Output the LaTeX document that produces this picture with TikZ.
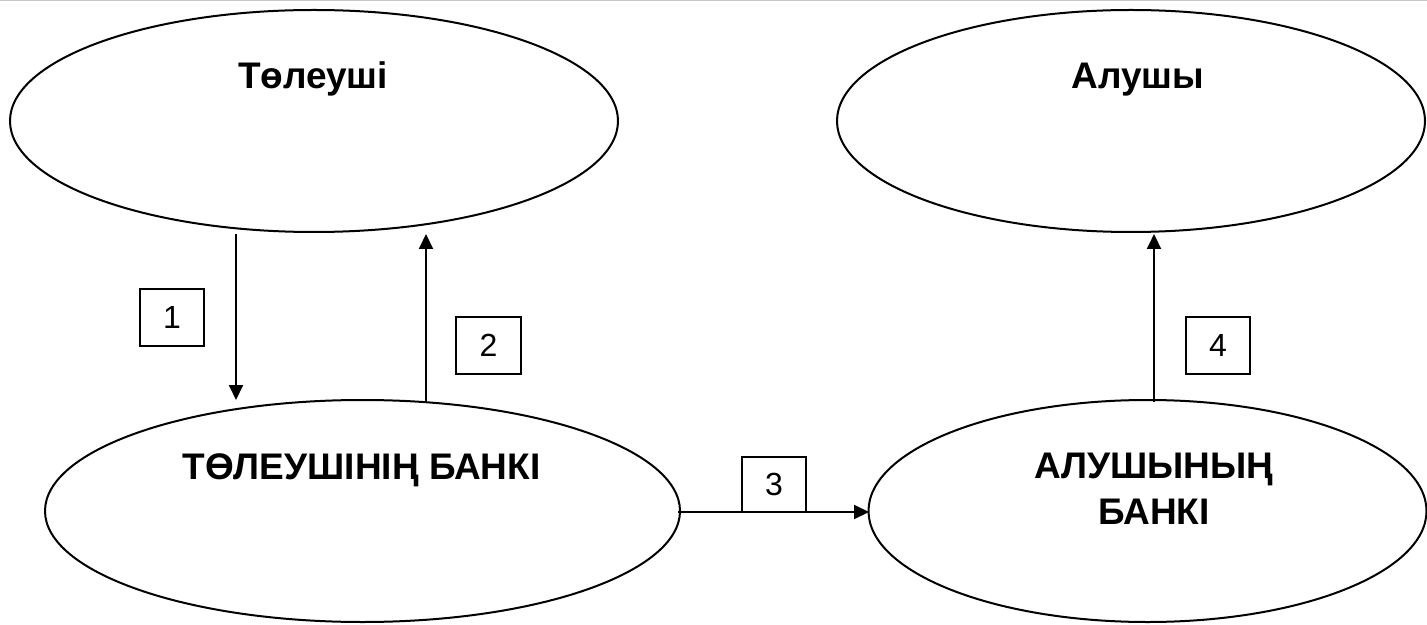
\documentclass[tikz,border=0pt]{standalone}
\usepackage{fontspec}
\setmainfont{Liberation Sans}
\usetikzlibrary{shapes.geometric,arrows.meta}
\begin{document}
\begin{tikzpicture}[x=0.5pt,y=-0.5pt,
  oval/.style={draw=black,line width=1pt,ellipse,inner sep=0pt},
  bigtext/.style={font=\fontsize{18.5}{23}\selectfont\bfseries,inner sep=0pt,align=center},
  numbox/.style={draw=black,line width=0.75pt,inner sep=0pt,font=\fontsize{16}{19}\selectfont},
  flow/.style={line width=1pt,-{Triangle[length=7.5pt,width=7pt]}}]
\useasboundingbox (0,0) rectangle (1427,625);
\draw[line width=0.6pt,draw={rgb,255:red,200;green,200;blue,200}] (0,0.6) -- (1427,0.6);
% ellipses
\node[oval,minimum width=608pt*0.5,minimum height=222pt*0.5] (payer) at (314,121) {};
\node[oval,minimum width=588pt*0.5,minimum height=222pt*0.5] (payee) at (1131,121) {};
\node[oval,minimum width=635pt*0.5,minimum height=222pt*0.5] (payerbank) at (362.5,511) {};
\node[oval,minimum width=558pt*0.5,minimum height=222pt*0.5] (payeebank) at (1147.5,511) {};
% texts
\node[bigtext,anchor=base] (t1) at (313,89) {Төлеуші};
\node[bigtext,anchor=base] (t2) at (1138,89) {Алушы};
\node[bigtext,anchor=base] (t3) at (361.5,479) {ТӨЛЕУШІНІҢ БАНКІ};
\node[bigtext,anchor=north] (t4) at (1154,453) {АЛУШЫНЫҢ\\БАНКІ};
% arrow endpoints
\coordinate (a1s) at (236,234);
\coordinate (a1e) at (236,400);
\coordinate (a2s) at (426,402);
\coordinate (a2e) at (426,234);
\coordinate (a3s) at (678,512);
\coordinate (a3e) at (869,512);
\coordinate (a4s) at (1154,402);
\coordinate (a4e) at (1154,234);
\draw[flow] (a1s) -- (a1e);
\draw[flow] (a2s) -- (a2e);
\draw[flow] (a3s) -- (a3e);
\draw[flow] (a4s) -- (a4e);
% number boxes
\node[numbox,minimum width=32pt,minimum height=28.5pt,fill=white] (n1) at (172,317.5) {1};
\node[numbox,minimum width=32.5pt,minimum height=28.5pt,fill=white] (n2) at (488.5,345.5) {2};
\node[numbox,minimum width=32pt,minimum height=27.5pt] (n3) at (774,484.5) {3};
\node[numbox,minimum width=32pt,minimum height=28.5pt,fill=white] (n4) at (1218,345.5) {4};
\end{tikzpicture}
\end{document}
